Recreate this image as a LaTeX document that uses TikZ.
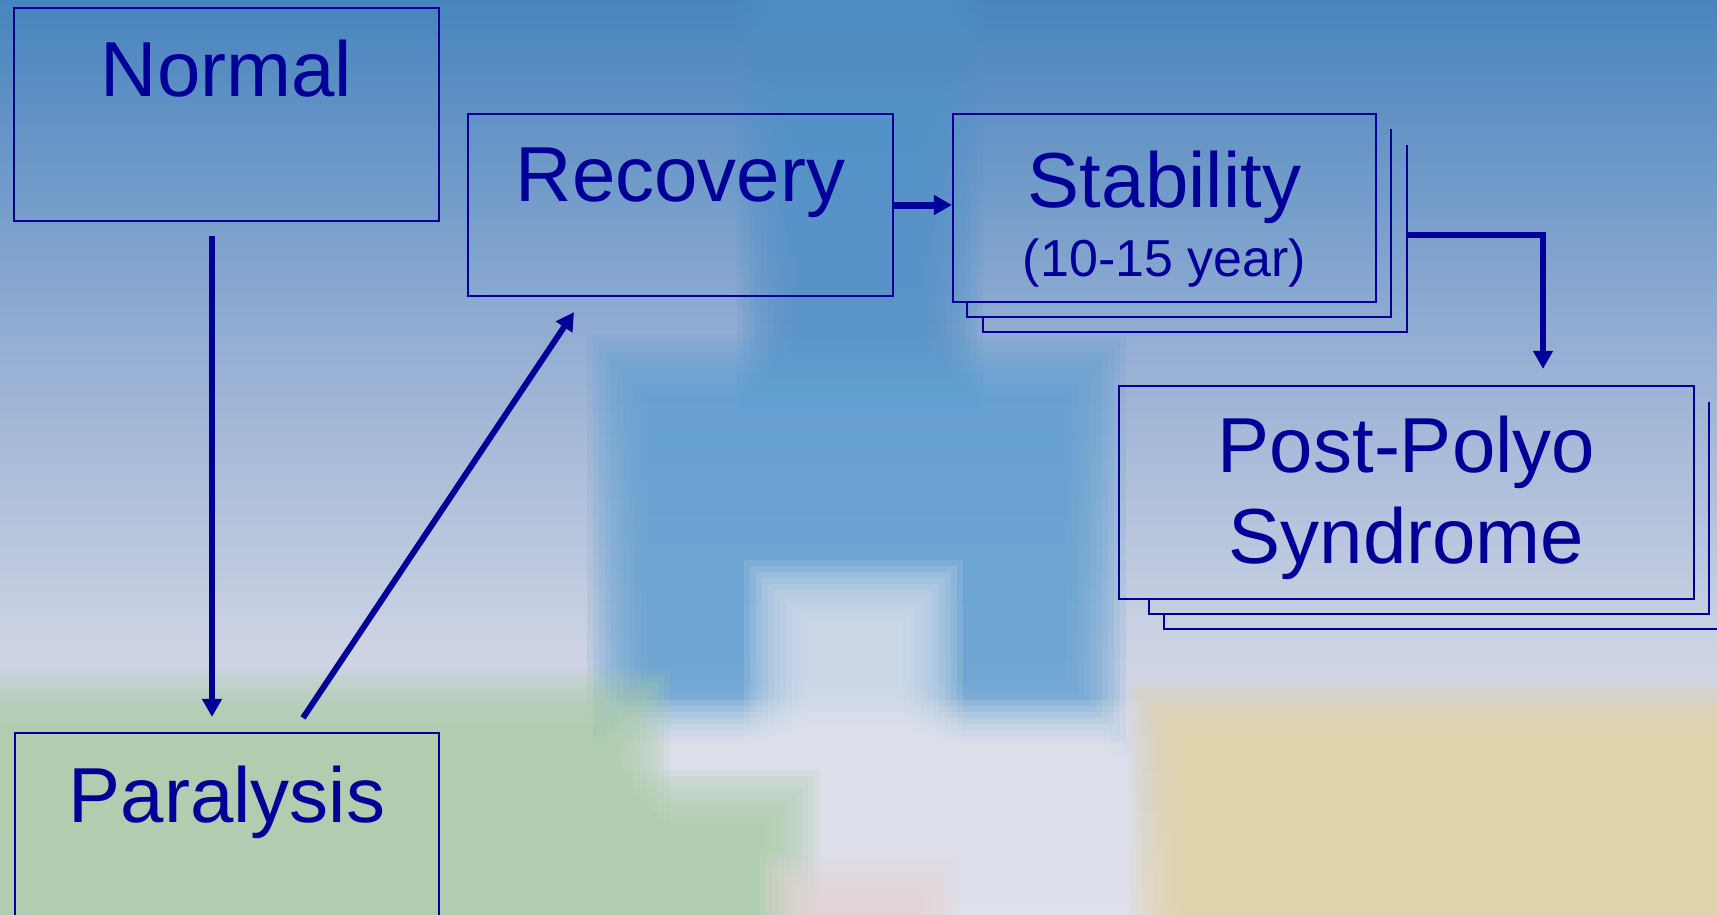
\documentclass[tikz,border=0pt]{standalone}
\usepackage{fontspec}
\setmainfont{Liberation Sans}
\usetikzlibrary{arrows.meta,calc}

\definecolor{flowblue}{RGB}{0,0,153}
\definecolor{skytop}{RGB}{72,132,190}
\definecolor{skymid}{RGB}{150,175,212}
\definecolor{skylow}{RGB}{205,211,227}
\definecolor{skybot}{RGB}{222,225,235}
\definecolor{towerblue}{RGB}{95,160,210}
\definecolor{paleblock}{RGB}{226,229,239}
\definecolor{grassgreen}{RGB}{172,205,168}
\definecolor{sandyellow}{RGB}{230,210,160}
\definecolor{rosered}{RGB}{232,212,214}

\newcommand{\labelfont}{\fontsize{78}{91}\selectfont}
\newcommand{\notefont}{\fontsize{52}{60}\selectfont}

% soft edged rectangle for the blurred background
\newcommand{\softrect}[3]{%
  \foreach \k in {0,...,10}
    \fill[#1, opacity=0.15] ($(#2)+(\k*6-30,\k*6-30)$) rectangle ($(#3)-(\k*6-30,\k*6-30)$);
}

\begin{document}
\begin{tikzpicture}[x=1pt, y=-1pt, line join=miter,
  >={Triangle[width=19pt,length=18pt]},
  box/.style={draw=flowblue, line width=2.2pt, inner sep=0pt, text=flowblue, font=\labelfont},
  ghost/.style={inner sep=0pt},
  backedge/.style={draw=flowblue, line width=2.2pt},
  flow/.style={draw=flowblue, line width=6pt, ->}]

  % Fix the size of the slide
  \useasboundingbox (0,0) rectangle (1717,914);
  \clip (0,0) rectangle (1717,914);

  % Draw the blurred background
  \shade[top color=skytop, bottom color=skymid] (0,0) rectangle (1717,351);
  \shade[top color=skymid, bottom color=skylow] (0,350) rectangle (1717,651);
  \shade[top color=skylow, bottom color=skybot] (0,650) rectangle (1717,914);
  \softrect{towerblue!50!skytop}{767,-40}{953,380}
  \softrect{towerblue}{617,365}{1096,712}
  \softrect{paleblock}{774,590}{933,760}
  \softrect{paleblock}{637,730}{1110,800}
  \softrect{paleblock}{790,780}{1110,954}
  \softrect{grassgreen}{-40,700}{640,954}
  \softrect{grassgreen}{640,800}{790,954}
  \softrect{sandyellow}{1160,712}{1757,954}
  \softrect{rosered}{790,885}{931,954}

  % Draw the stages
  \node[box, minimum width=425pt, text height=88pt, text depth=125pt] (normal) at (226.5,114.5) {Normal};
  \node[box, minimum width=425pt, text height=87pt, text depth=95pt] (recovery) at (680.5,205) {Recovery};
  \node[box, minimum width=424pt, text height=89pt, text depth=128pt] (paralysis) at (227,841.5) {Paralysis};

  % Draw the stacked stability box
  \node[ghost, minimum width=424pt, minimum height=188pt] (stab2) at (1179,223) {};
  \node[ghost, minimum width=424pt, minimum height=187pt] (stab3) at (1195,238.5) {};
  \node[box, minimum width=423pt, text height=93pt, text depth=95pt,
        font=\fontsize{78}{69}\selectfont] (stability) at (1164.5,208)
    {\begin{tabular}[t]{@{}c@{}}Stability\\\notefont(10-15 year)\end{tabular}};
  \draw[backedge] (stab2.north east) -- (stab2.south east) -- (stab2.south west) -- (stab2.south west |- stability.south);
  \draw[backedge] (stab3.north east) -- (stab3.south east) -- (stab3.south west) -- (stab3.south west |- stab2.south);

  % Draw the stacked post-polyo box
  \node[ghost, minimum width=560pt, minimum height=212pt] (post2) at (1429,508) {};
  \node[ghost, minimum width=560pt, minimum height=213pt] (post3) at (1444,522.5) {};
  \node[box, minimum width=575pt, text height=86pt, text depth=127pt] (post) at (1406.5,492.5)
    {\begin{tabular}[t]{@{}c@{}}Post-Polyo\\Syndrome\end{tabular}};
  \draw[backedge] (post2.north east) -- (post2.south east) -- (post2.south west) -- (post2.south west |- post.south);
  \draw[backedge] (post3.north east) -- (post3.south east) -- (post3.south west) -- (post3.south west |- post2.south);

  % Draw the arrows between the stages
  \coordinate (elbow) at (1543,235);
  \draw[flow] ([xshift=-14.5pt,yshift=-14pt]normal.south) -- ([xshift=-15pt,yshift=15pt]paralysis.north);
  \draw[flow] ([xshift=76pt,yshift=14pt]paralysis.north) -- ([xshift=-106.5pt,yshift=-15pt]recovery.south);
  \draw[flow, line width=7pt] (recovery.east) -- (recovery.east -| stability.west);
  \draw[flow] (stab3.east |- elbow) -- (elbow) -- ([yshift=16pt]elbow |- post.north);

\end{tikzpicture}
\end{document}
